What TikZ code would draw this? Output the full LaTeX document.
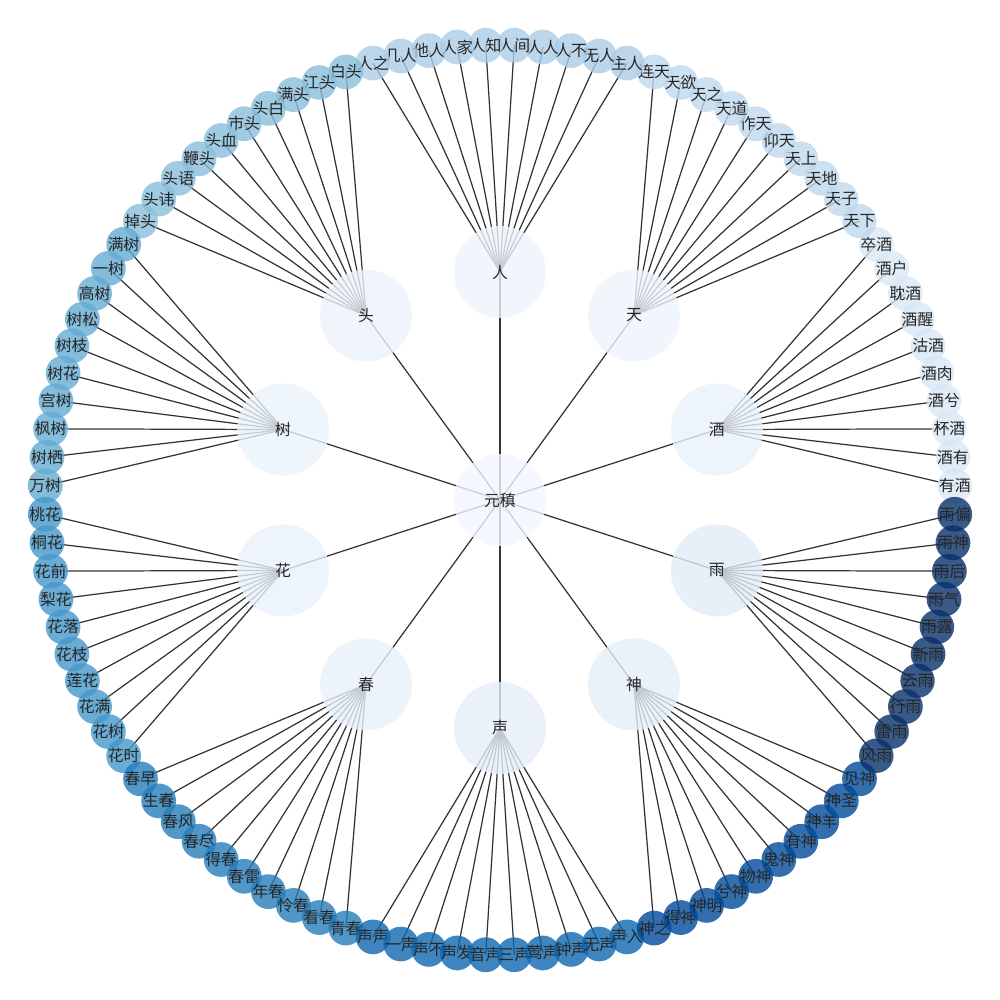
\documentclass[tikz,border=0pt]{standalone}
\usepackage{fontspec}
\setmainfont{Noto Sans CJK SC}
\usepackage{tikz}

% leaf colours, light to dark
\definecolor{lc0}{HTML}{D9E7F5}
\definecolor{lc1}{HTML}{C0D8ED}
\definecolor{lc2}{HTML}{ABCDE6}
\definecolor{lc3}{HTML}{89BEDB}
\definecolor{lc4}{HTML}{65ABD3}
\definecolor{lc5}{HTML}{4597CA}
\definecolor{lc6}{HTML}{257EBA}
\definecolor{lc7}{HTML}{0F68B0}
\definecolor{lc8}{HTML}{004B9A}
\definecolor{lc9}{HTML}{08306B}
% hub colours
\definecolor{rootc}{HTML}{F1F6FE}
\definecolor{hc0}{HTML}{EAF1FA}
\definecolor{hc1}{HTML}{EDF4FC}
\definecolor{hc2}{HTML}{EDF4FC}
\definecolor{hc3}{HTML}{ECF3FB}
\definecolor{hc4}{HTML}{EAF2FA}
\definecolor{hc5}{HTML}{E9F1FA}
\definecolor{hc6}{HTML}{E7F0F9}
\definecolor{hc7}{HTML}{E5EEF8}
\definecolor{hc8}{HTML}{E3EDF8}
\definecolor{hc9}{HTML}{E1EBF6}

\pgfdeclarelayer{background}
\pgfsetlayers{background,main}

\begin{document}
\begin{tikzpicture}[font=\fontsize{9}{10}\selectfont]
  \tikzset{hub/.style={circle,fill=#1,fill opacity=0.8,text opacity=1,text=black!85,minimum size=1.84cm,inner sep=0pt},
           leaf/.style={circle,fill=#1,fill opacity=0.8,text opacity=1,text=black!85,minimum size=0.58cm,inner sep=0pt},
           link/.style={draw=black!80,line width=0.7pt}}
  \path [use as bounding box] (-10,-10) rectangle (10,10);
  \node [hub=rootc] (root) at (0,0) {元稹};
  \foreach \name/\words [count=\i from 0] in {
      酒/{有酒,酒有,杯酒,酒兮,酒肉,沽酒,酒醒,耽酒,酒户,卒酒},
      天/{天下,天子,天地,天上,仰天,作天,天道,天之,天欲,连天},
      人/{主人,无人,人不,人人,人间,人知,人家,他人,几人,人之},
      头/{白头,江头,满头,头白,市头,头血,鞭头,头语,头讳,掉头},
      树/{满树,一树,高树,树松,树枝,树花,宫树,枫树,树栖,万树},
      花/{桃花,桐花,花前,梨花,花落,花枝,莲花,花满,花树,花时},
      春/{春早,生春,春风,春尽,得春,春雷,年春,怜春,看春,青春},
      声/{声声,一声,声不,声发,音声,三声,莺声,钟声,无声,声入},
      神/{神之,得神,神明,兮神,物神,鬼神,有神,神羊,神圣,见神},
      雨/{风雨,雷雨,行雨,云雨,新雨,雨露,雨气,雨后,雨神,雨偏}} {
    \node [hub=hc\i] (h\i) at (18+36*\i:4.56) {\name};
    \begin{pgfonlayer}{background}
      \draw [link] (root.center) -- (h\i.center);
    \end{pgfonlayer}
    \foreach \w [count=\k from 0] in \words {
      \node [leaf=lc\i] (l\i-\k) at (1.8+36*\i+3.6*\k:9.1) {\w};
      \begin{pgfonlayer}{background}
        \draw [link] (h\i.center) -- (l\i-\k.center);
      \end{pgfonlayer}
    }
  }
\end{tikzpicture}
\end{document}
